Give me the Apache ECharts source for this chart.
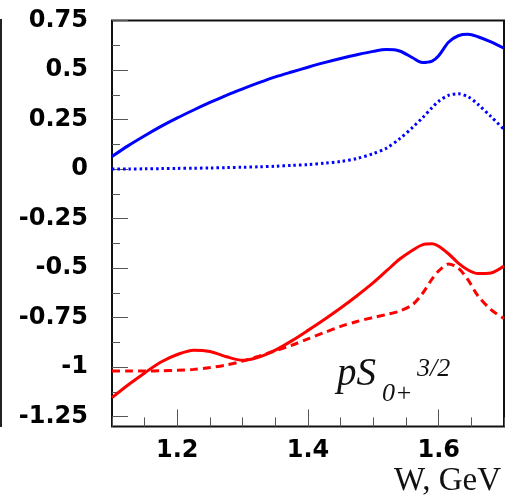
<!DOCTYPE html>
<html>
<head>
<meta charset="utf-8">
<style>
html,body{margin:0;padding:0;background:#fff;}
#chart{width:510px;height:503px;}
</style>
<script src="https://cdn.jsdelivr.net/npm/echarts/dist/echarts.min.js"></script>
</head>
<body>
<div id="chart"></div>
<script>
// W, GeV
var wValues = [1.10,1.125,1.15,1.175,1.20,1.225,1.25,1.275,1.30,1.325,1.35,1.375,1.40,1.425,1.45,1.475,1.50,1.52,1.54,1.56,1.575,1.59,1.60,1.615,1.63,1.645,1.66,1.68,1.70];
var blueSolid = [0.063,0.118,0.168,0.215,0.258,0.298,0.336,0.372,0.405,0.436,0.465,0.49,0.514,0.537,0.558,0.577,0.594,0.603,0.596,0.562,0.538,0.545,0.572,0.64,0.673,0.68,0.668,0.642,0.61];
var blueDotted = [0.0,0.0,0.001,0.002,0.003,0.004,0.005,0.007,0.009,0.011,0.014,0.018,0.022,0.029,0.038,0.053,0.078,0.105,0.152,0.21,0.258,0.31,0.342,0.372,0.38,0.365,0.327,0.265,0.2];
var redSolid = [-1.155,-1.09,-1.03,-0.975,-0.937,-0.915,-0.922,-0.948,-0.966,-0.95,-0.915,-0.868,-0.815,-0.76,-0.702,-0.64,-0.574,-0.515,-0.456,-0.41,-0.383,-0.378,-0.39,-0.428,-0.475,-0.51,-0.528,-0.525,-0.49];
var redDashed = [-1.02,-1.02,-1.02,-1.019,-1.017,-1.012,-1.003,-0.99,-0.97,-0.945,-0.918,-0.89,-0.858,-0.826,-0.795,-0.77,-0.75,-0.735,-0.718,-0.685,-0.63,-0.555,-0.515,-0.48,-0.5,-0.56,-0.64,-0.71,-0.755];
var xTickLabels = ['1.2','1.4','1.6'];
var yTickLabels = ['-1.25','-1','-0.75','-0.5','-0.25','0','0.25','0.5','0.75'];
var xTitle = 'W, GeV';

function pairs(ys){ return wValues.map(function(w,i){ return [w, ys[i]]; }); }

var chart = echarts.init(document.getElementById('chart'), null, {renderer:'canvas'});
var tickColor = '#555';
function labelFont(extra){
  return Object.assign({show:true, fontFamily:'DejaVu Sans', fontWeight:'bold', fontSize:24, color:'#000'}, extra);
}
function hidden(extra){ return Object.assign({type:'value', show:false}, extra); }
// an axis that draws only its split lines (used as tick marks inside a thin strip grid)
function tickAxis(extra){
  return Object.assign({type:'value', axisLine:{show:false}, axisTick:{show:false}, axisLabel:{show:false},
    splitLine:{show:true, lineStyle:{color:tickColor, width:1}}}, extra);
}

// Frame: x 112..504, y 20.5..426.4
var option = {
  animation:false,
  backgroundColor:'#fff',
  grid:[
    // 0: data
    {left:112, right:6, top:20.5, bottom:76.6, show:true, borderColor:'#111', borderWidth:2, backgroundColor:'transparent'},
    // 1: y major ticks strip (16 px)
    {left:112, right:382, top:20.5, bottom:86.5, show:false},
    // 2: y minor ticks strip (8 px)
    {left:112, right:390, top:20.5, bottom:86.5, show:false},
    // 3: x minor ticks strip (9 px)
    {left:112, right:6, top:417.4, bottom:76.6, show:false},
    // 4: x major ticks strip (17 px)
    {left:177.3, right:71.3, top:409.4, bottom:76.6, show:false},
    // 5: y labels
    {left:112, right:6, top:20.5, bottom:86.5, show:false},
    // 6: x labels
    {left:177.3, right:71.3, top:20.5, bottom:76.6, show:false}
  ],
  xAxis:[
    hidden({gridIndex:0, min:1.1, max:1.7}),
    hidden({gridIndex:1, min:1, max:2}),
    hidden({gridIndex:2, min:1, max:2}),
    tickAxis({gridIndex:3, min:1.1, max:1.7, interval:0.05}),
    tickAxis({gridIndex:4, min:1.2, max:1.6, interval:0.2}),
    hidden({gridIndex:5, min:1.1, max:1.7}),
    {type:'value', gridIndex:6, min:1.2, max:1.6, interval:0.2,
     axisLine:{show:false}, splitLine:{show:false}, axisTick:{show:false},
     axisLabel:labelFont({margin:12, formatter:function(v){
        var s = v.toFixed(1); return xTickLabels.indexOf(s) >= 0 ? s : ''; }})}
  ],
  yAxis:[
    hidden({gridIndex:0, min:-1.3, max:0.75}),
    tickAxis({gridIndex:1, min:-1.25, max:0.75, interval:0.25}),
    tickAxis({gridIndex:2, min:-1.25, max:0.75, interval:0.125}),
    hidden({gridIndex:3, min:1, max:2}),
    hidden({gridIndex:4, min:1, max:2}),
    {type:'value', gridIndex:5, min:-1.25, max:0.75, interval:0.25,
     axisLine:{show:false}, splitLine:{show:false}, axisTick:{show:false},
     axisLabel:labelFont({margin:24, formatter:function(v){
        var s = String(Math.round(v*100)/100); return yTickLabels.indexOf(s) >= 0 ? s : ''; }})},
    hidden({gridIndex:6, min:1, max:2})
  ],
  series:[
    {type:'line', xAxisIndex:0, yAxisIndex:0, data:pairs(blueSolid), smooth:0.3, showSymbol:false,
     lineStyle:{color:'#0000ff', width:3}},
    {type:'line', xAxisIndex:0, yAxisIndex:0, data:pairs(blueDotted), smooth:0.3, showSymbol:false,
     lineStyle:{color:'#0000ff', width:3, type:[2.5,3]}},
    {type:'line', xAxisIndex:0, yAxisIndex:0, data:pairs(redSolid), smooth:0.3, showSymbol:false,
     lineStyle:{color:'#ff0000', width:3}},
    {type:'line', xAxisIndex:0, yAxisIndex:0, data:pairs(redDashed), smooth:0.3, showSymbol:false,
     lineStyle:{color:'#ff0000', width:3, type:[8,5]}}
  ],
  graphic:[
    {type:'line', shape:{x1:1, y1:19, x2:1, y2:427}, style:{stroke:'#222', lineWidth:2}, silent:true},
    {type:'text', left:337, top:355, style:{text:'pS', font:'italic 39px "Liberation Serif"', fill:'#111'}},
    {type:'text', left:382, top:381, style:{text:'0+', font:'italic 26px "Liberation Serif"', fill:'#111'}},
    {type:'text', left:417, top:356, style:{text:'3/2', font:'italic 26px "Liberation Serif"', fill:'#111'}},
    {type:'text', right:9, top:465, style:{text:xTitle, font:'33px "Liberation Serif"', fill:'#111'}}
  ]
};
chart.setOption(option);
</script>
</body>
</html>
